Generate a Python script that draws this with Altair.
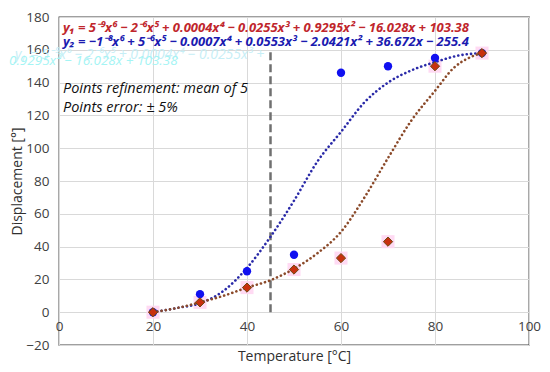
import altair as alt
import pandas as pd

# measured points
blue_T = [20, 30, 40, 50, 60, 70, 80, 90]
blue_D = [0, 11, 25, 35, 146, 150, 155, 158]
red_T = [20, 30, 40, 50, 60, 70, 80, 90]
red_D = [0, 6, 15, 26, 33, 43, 150, 158]

# trend curves
blue_curve_T = [20, 25, 30, 35, 40, 45, 50, 55, 60, 65, 70, 75, 80, 85, 90]
blue_curve_D = [0, 2.5, 5.5, 13, 27, 46, 68, 92, 110, 128, 140, 147.5, 152.5, 156.5, 158]
red_curve_T = [20, 25, 30, 35, 40, 45, 50, 55, 60, 65, 70, 75, 80, 84, 87.5, 90]
red_curve_D = [0, 2.5, 6, 10, 15, 19.5, 26.5, 36, 49, 70, 94, 117, 135, 149, 155.5, 158]

vline_T = [45, 45]
vline_D = [0, 160]

eq1 = "y\u2081 = 5\u207b\u2079x\u2076 \u2212 2\u207b\u2076x\u2075 + 0.0004x\u2074 \u2212 0.0255x\u00b3 + 0.9295x\u00b2 \u2212 16.028x + 103.38"
eq2 = "y\u2082 = \u22121\u207b\u2078x\u2076 + 5\u207b\u2076x\u2075 \u2212 0.0007x\u2074 + 0.0553x\u00b3 \u2212 2.0421x\u00b2 + 36.672x \u2212 255.4"
note1 = "Points refinement: mean of 5"
note2 = "Points error: \u00b1 5%"
ghost1 = "y\u2081 = 5\u207b\u2079x\u2076 \u2212 2\u207b\u2076x\u2075 + 0.0004x\u2074 \u2212 0.0255x\u00b3 +"
ghost2 = "0.9295x\u00b2 \u2212 16.028x + 103.38"

blue = pd.DataFrame({"T": blue_T, "D": blue_D})
red = pd.DataFrame({"T": red_T, "D": red_D})
bc = pd.DataFrame({"T": blue_curve_T, "D": blue_curve_D})
rc = pd.DataFrame({"T": red_curve_T, "D": red_curve_D})
vl = pd.DataFrame({"T": vline_T, "D": vline_D})

xs = alt.Scale(domain=[0, 100], nice=False)
ys = alt.Scale(domain=[-20, 180], nice=False)
X = alt.X("T:Q", scale=xs, axis=alt.Axis(
    title="Temperature [°C]", values=[0, 20, 40, 60, 80, 100], offset=-33,
    domain=False, ticks=False, grid=True, gridColor="#d9d9d9",
    labelFontSize=13.5, labelColor="#404040", labelPadding=7, labelFont="Open Sans",
    titleFontSize=14, titleColor="#303030", titleFont="Open Sans", titleFontWeight="normal",
    titlePadding=17, labelFlush=False))
Y = alt.Y("D:Q", scale=ys, axis=alt.Axis(
    title="Displacement [°]", values=list(range(-20, 181, 20)),
    domain=False, ticks=False, grid=True, gridColor="#d9d9d9",
    labelFontSize=13.5, labelColor="#404040", labelPadding=10, labelFont="Open Sans",
    titleFontSize=14, titleColor="#303030", titleFont="Open Sans", titleFontWeight="normal",
    titleX=-42, titleY=164, titleAngle=-90, titleAlign="center", titleBaseline="middle"))

base_b = alt.Chart(blue)
base_r = alt.Chart(red)

pink = base_r.mark_square(size=170, color="#ffd6f2", opacity=0.9).encode(x=X, y=Y)
vline = alt.Chart(vl).mark_line(color="#707070", strokeWidth=2.5, strokeDash=[8, 4]).encode(x=X, y=Y)
bline = alt.Chart(bc).mark_line(color="#2a2aa8", strokeWidth=2.6, strokeDash=[0.1, 4.2],
                                strokeCap="round", interpolate="monotone").encode(x=X, y=Y, order="T:Q")
rline = alt.Chart(rc).mark_line(color="#8b4a2a", strokeWidth=2.6, strokeDash=[0.1, 4.2],
                                strokeCap="round", interpolate="monotone").encode(x=X, y=Y, order="T:Q")
bpts = base_b.mark_circle(size=70, color="#1010f0", opacity=1).encode(x=X, y=Y)
rpts = base_r.mark_point(shape="diamond", size=85, filled=True, fill="#c8300f",
                         stroke="#6b4a10", strokeWidth=1, opacity=1).encode(x=X, y=Y)

def txt(s, x, y, color, size, weight="normal", style="italic", font="Open Sans"):
    return alt.Chart(pd.DataFrame({"t": [s]})).mark_text(
        align="left", baseline="middle", fontSize=size, fontStyle=style,
        fontWeight=weight, color=color, font=font, clip=False).encode(
        x=alt.value(x), y=alt.value(y), text="t:N")

g1 = txt(ghost1, -44, 38, "#c6eef6", 14)
g2 = txt(ghost2, -50, 44, "#a4f4f4", 13.5)
t1 = txt(eq1, 4, 11, "#c0262c", 13, "bold")
t2 = txt(eq2, 4, 25, "#1a1ab0", 13, "bold")
n1 = txt(note1, 4, 72, "#111111", 14.5)
n2 = txt(note2, 4, 91, "#111111", 14.5)

chart = alt.layer(pink, vline, bline, rline, bpts, rpts, g1, g2, t1, t2, n1, n2).properties(
    width=470, height=328,
    autosize=alt.AutoSizeParams(type="none"),
    padding={"left": 51, "top": 9, "right": 12, "bottom": 19},
    background="white",
).configure_view(stroke="#404040", strokeWidth=1.3)

chart.save("out.html", embed_options={"renderer": "svg", "actions": False})
